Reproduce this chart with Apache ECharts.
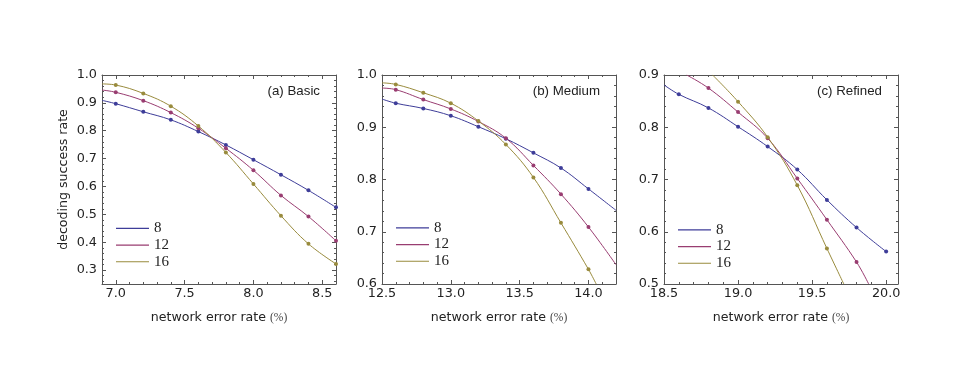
<!DOCTYPE html>
<html>
<head>
<meta charset="utf-8">
<script src="https://cdn.jsdelivr.net/npm/echarts@6/dist/echarts.min.js"></script>
<style>
  html, body { margin: 0; padding: 0; background: #fff; }
  #chart { width: 954px; height: 391px; }
</style>
</head>
<body>
<div id="chart"></div>
<script>
// group sizes shown in every panel
const groups = ['8', '12', '16']
const colors = ['#3e3d99', '#993d71', '#998b3d']

// (a) Basic: measured points
const aX = [7.0, 7.2, 7.4, 7.6, 7.8, 8.0, 8.2, 8.4, 8.6]
const a8 = [0.897, 0.868, 0.839, 0.797, 0.749, 0.696, 0.642, 0.586, 0.525]
const a12 = [0.938, 0.908, 0.865, 0.809, 0.737, 0.658, 0.568, 0.492, 0.405]
const a16 = [0.964, 0.934, 0.888, 0.817, 0.722, 0.609, 0.495, 0.394, 0.322]
// where each fitted curve meets the frame [start, end]
const aEnds8 = [[6.9, 0.909], null]
const aEnds12 = [[6.9, 0.946], null]
const aEnds16 = [[6.9, 0.968], null]

// (b) Medium
const bX = [12.6, 12.8, 13.0, 13.2, 13.4, 13.6, 13.8, 14.0]
const b8 = [0.946, 0.936, 0.922, 0.901, 0.878, 0.851, 0.822, 0.782]
const b12 = [0.972, 0.953, 0.935, 0.911, 0.879, 0.827, 0.772, 0.709]
const b16 = [0.982, 0.966, 0.946, 0.912, 0.867, 0.804, 0.717, 0.628]
const bEnds8 = [[12.5, 0.954], [14.2, 0.741]]
const bEnds12 = [[12.5, 0.975], [14.2, 0.637]]
const bEnds16 = [[12.5, 0.985], [14.056, 0.6]]

// (c) Refined
const cX = [18.6, 18.8, 19.0, 19.2, 19.4, 19.6, 19.8, 20.0]
const c8 = [0.863, 0.837, 0.801, 0.763, 0.719, 0.661, 0.608, 0.562]
const c12 = [null, 0.875, 0.829, 0.779, 0.702, 0.623, 0.542, null]
const c16 = [null, null, 0.849, 0.781, 0.689, 0.568, null, null]
const cEnds8 = [[18.5, 0.881], null]
const cEnds12 = [[18.653, 0.9], [19.882, 0.5]]
const cEnds16 = [[18.828, 0.9], [19.714, 0.5]]

const panels = [
  { label: '(a) Basic', xs: aX, ys: [a8, a12, a16], ends: [aEnds8, aEnds12, aEnds16],
    xMin: 6.9, xMax: 8.6, yMin: 0.25, yMax: 1.0, ySplit: 7, left: 102, legendTop: 220 },
  { label: '(b) Medium', xs: bX, ys: [b8, b12, b16], ends: [bEnds8, bEnds12, bEnds16],
    xMin: 12.5, xMax: 14.2, yMin: 0.6, yMax: 1.0, ySplit: 4, left: 382, legendTop: 219.5 },
  { label: '(c) Refined', xs: cX, ys: [c8, c12, c16], ends: [cEnds8, cEnds12, cEnds16],
    xMin: 18.5, xMax: 20.08, yMin: 0.5, yMax: 0.9, ySplit: 4, left: 664, legendTop: 221.5 }
]

const TOP = 75
const W = 234
const H = 209
const frame = '#555'
const textColor = '#222'
const sans = 'DejaVu Sans'

function fmt(v) {
  return v.toFixed(1)
}

const grid = []
const xAxis = []
const yAxis = []
const series = []
const legend = []
const title = []

panels.forEach((p, i) => {
  grid.push({ left: p.left, top: TOP, width: W, height: H })
  const tick = { show: true, inside: true, length: 4, lineStyle: { color: frame } }
  const minor = { show: true, splitNumber: 5, length: 2, lineStyle: { color: frame } }
  const line = { show: true, lineStyle: { color: frame, width: 1 } }
  const xCommon = {
    type: 'value', gridIndex: i, min: p.xMin, max: p.xMax, splitNumber: 3,
    axisLine: line, axisTick: tick, minorTick: minor, splitLine: { show: false }
  }
  const yCommon = {
    type: 'value', gridIndex: i, min: p.yMin, max: p.yMax, splitNumber: p.ySplit,
    axisLine: line, axisTick: tick, minorTick: minor, splitLine: { show: false }
  }
  xAxis.push(Object.assign({}, xCommon, {
    position: 'bottom',
    name: 'network error rate {p|(%)}',
    nameLocation: 'middle',
    nameGap: 27,
    nameTextStyle: {
      fontFamily: sans, fontSize: 12.6, color: textColor,
      rich: { p: { fontFamily: 'Liberation Serif', fontSize: 11.5, color: '#444' } }
    },
    axisLabel: {
      margin: 3, formatter: fmt, color: textColor, fontFamily: sans, fontSize: 12.8,
      showMinLabel: p.xMin === 6.9 ? false : true, showMaxLabel: false
    }
  }))
  xAxis.push(Object.assign({}, xCommon, { position: 'top', axisLabel: { show: false } }))
  yAxis.push(Object.assign({}, yCommon, {
    position: 'left',
    name: i === 0 ? 'decoding success rate' : '',
    nameLocation: 'middle',
    nameGap: 32,
    nameTextStyle: { fontFamily: sans, fontSize: 12.6, color: textColor },
    axisLabel: {
      margin: 5, formatter: fmt, color: textColor, fontFamily: sans, fontSize: 12.8,
      showMinLabel: p.yMin === 0.25 ? false : true, showMaxLabel: true
    }
  }))
  yAxis.push(Object.assign({}, yCommon, { position: 'right', axisLabel: { show: false } }))

  groups.forEach((g, k) => {
    const pts = []
    const ends = p.ends[k]
    if (ends[0]) pts.push({ value: ends[0], symbol: 'none' })
    p.xs.forEach((x, j) => {
      const v = p.ys[k][j]
      if (v !== null) pts.push({ value: [x, v] })
    })
    if (ends[1]) pts.push({ value: ends[1], symbol: 'none' })
    series.push({
      name: g,
      type: 'line',
      xAxisIndex: i * 2,
      yAxisIndex: i * 2,
      smooth: 0.4,
      symbol: 'circle',
      symbolSize: 4,
      color: colors[k],
      lineStyle: { width: 1, color: colors[k] },
      itemStyle: { color: colors[k] },
      emphasis: { disabled: true },
      clip: true,
      data: pts
    })
  })

  legend.push({
    data: groups,
    orient: 'vertical',
    left: p.left + 14,
    top: p.legendTop,
    icon: 'rect',
    itemWidth: 33,
    itemHeight: 1.2,
    itemGap: 0,
    padding: 0,
    selectedMode: false,
    textStyle: { fontFamily: 'Liberation Serif', fontSize: 15, color: textColor, lineHeight: 16.7, padding: [0, 0, 0, 0] }
  })

  title.push({
    text: p.label,
    right: 954 - (p.left + W - 16),
    top: 85,
    padding: 0,
    textStyle: { fontFamily: 'Liberation Sans', fontSize: 13.3, fontWeight: 'normal', color: textColor }
  })
})

const chart = echarts.init(document.getElementById('chart'), null, { renderer: 'canvas' })
chart.setOption({
  backgroundColor: '#fff',
  animation: false,
  title: title,
  legend: legend,
  grid: grid,
  xAxis: xAxis,
  yAxis: yAxis,
  series: series
})
</script>
</body>
</html>
